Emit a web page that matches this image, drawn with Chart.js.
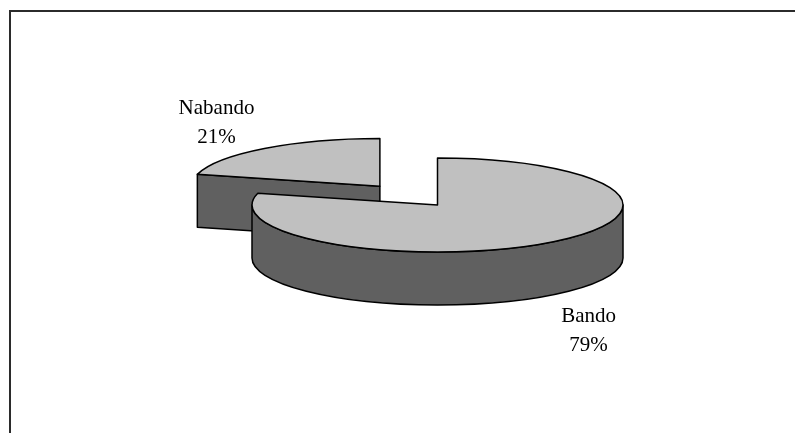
<!DOCTYPE html>
<html>
<head>
<meta charset="utf-8">
<script src="https://cdn.jsdelivr.net/npm/chart.js@4.4.1/dist/chart.umd.min.js"></script>
<style>
  html, body { margin: 0; padding: 0; background: #fff; overflow: hidden; }
</style>
</head>
<body>
<canvas id="pie" width="795" height="433"></canvas>
<script>
// Slices of the pie
const categories = ["Bando", "Nabando"];
const shares = [79, 21];

// Look of the fake 3D disc
const TOP_COLOR = "#c0c0c0";
const SIDE_COLOR = "#606060";
const EDGE_COLOR = "#000000";
const TILT = 0.253;       // vertical squash of the disc
const DEPTH = 53;         // disc thickness in px
const LABEL_FONT = "21px 'Liberation Serif', 'Times New Roman', serif";
const LINE_H = 29;

// Geometry of an arc element as it is actually drawn (same maths as ArcElement.draw)
function sliceGeom(el) {
  const mid = (el.startAngle + el.endAngle) / 2;
  const off = (el.options.offset || 0) / 4;
  const circ = el.endAngle - el.startAngle;
  const fix = 1 - Math.sin(Math.min(Math.PI, circ));
  return {
    x: el.x + Math.cos(mid) * off,
    y: el.y + Math.sin(mid) * off * TILT,
    r: el.outerRadius + off * fix,
    s: el.startAngle,
    e: el.endAngle,
    mid: mid
  };
}

function drawFace(ctx, g, a) {
  const px = g.x + Math.cos(a) * g.r;
  const py = g.y + Math.sin(a) * g.r * TILT;
  ctx.beginPath();
  ctx.moveTo(g.x, g.y);
  ctx.lineTo(px, py);
  ctx.lineTo(px, py + DEPTH);
  ctx.lineTo(g.x, g.y + DEPTH);
  ctx.closePath();
  ctx.fill();
  ctx.stroke();
}

const disc3d = {
  id: "disc3d",
  beforeDraw(chart) {
    // chart frame: only the top and left edges are in the picture
    const ctx = chart.ctx;
    ctx.save();
    ctx.strokeStyle = "#2b2b2b";
    ctx.lineWidth = 2;
    ctx.beginPath();
    ctx.moveTo(10, chart.height);
    ctx.lineTo(10, 11);
    ctx.lineTo(chart.width, 11);
    ctx.stroke();
    ctx.restore();
  },
  beforeDatasetsDraw(chart) {
    const ctx = chart.ctx;
    const arcs = chart.getDatasetMeta(0).data;
    const geoms = arcs.map(sliceGeom).sort((a, b) => a.y - b.y);

    ctx.save();
    ctx.fillStyle = SIDE_COLOR;
    ctx.strokeStyle = EDGE_COLOR;
    ctx.lineWidth = 1.5;
    ctx.lineJoin = "round";
    geoms.forEach(g => {
      // cut faces that turn towards the viewer
      if (Math.cos(g.s) < -1e-6) drawFace(ctx, g, g.s);
      if (Math.cos(g.e) > 1e-6) drawFace(ctx, g, g.e);
      // outer wall on the front half of the disc
      for (let n = -1; n <= 1; n++) {
        const lo = Math.max(g.s, 2 * Math.PI * n);
        const hi = Math.min(g.e, 2 * Math.PI * n + Math.PI);
        if (hi - lo < 1e-6) continue;
        ctx.beginPath();
        ctx.ellipse(g.x, g.y, g.r, g.r * TILT, 0, lo, hi, false);
        ctx.ellipse(g.x, g.y + DEPTH, g.r, g.r * TILT, 0, hi, lo, true);
        ctx.closePath();
        ctx.fill();
        ctx.stroke();
      }
    });
    ctx.restore();

    // squash the flat pie so that Chart.js paints the top faces
    const cx = arcs[0].x, cy = arcs[0].y;
    ctx.save();
    ctx.translate(cx, cy);
    ctx.scale(1, TILT);
    ctx.translate(-cx, -cy);
  },
  afterDatasetsDraw(chart) {
    const ctx = chart.ctx;
    ctx.restore();

    const meta = chart.getDatasetMeta(0);
    const values = chart.data.datasets[0].data;
    const total = values.reduce((a, b) => a + b, 0);

    ctx.save();
    ctx.strokeStyle = EDGE_COLOR;
    ctx.lineWidth = 1.5;
    ctx.lineJoin = "round";
    meta.data.forEach(el => {
      const g = sliceGeom(el);
      ctx.beginPath();
      ctx.moveTo(g.x, g.y);
      ctx.ellipse(g.x, g.y, g.r, g.r * TILT, 0, g.s, g.e, false);
      ctx.closePath();
      ctx.stroke();
    });

    // data labels: category and percentage outside the disc
    ctx.font = LABEL_FONT;
    ctx.fillStyle = "#000";
    ctx.textAlign = "center";
    ctx.textBaseline = "middle";
    meta.data.forEach((el, i) => {
      const g = sliceGeom(el);
      const c = Math.cos(g.mid), s = Math.sin(g.mid);
      const ax = g.x + c * g.r;
      let ay = g.y + s * g.r * TILT;
      if (s > 0) ay += DEPTH;
      const lines = [chart.data.labels[i], Math.round(values[i] / total * 100) + "%"];
      const w = Math.max(...lines.map(t => ctx.measureText(t).width));
      const h = LINE_H * lines.length;
      const left = c >= 0 ? ax + 10 : ax - 10 - w;
      const top = s >= 0 ? ay + 7 : ay + 3 - h;
      lines.forEach((t, j) => ctx.fillText(t, left + w / 2, top + LINE_H * (j + 0.5)));
    });
    ctx.restore();
  }
};

new Chart(document.getElementById("pie"), {
  type: "pie",
  data: {
    labels: categories,
    datasets: [{
      data: shares,
      backgroundColor: TOP_COLOR,
      borderWidth: 0,
      offset: [0, 376],
      radius: 185.5
    }]
  },
  options: {
    responsive: false,
    animation: false,
    layout: { padding: { left: 80, right: 0, top: 0, bottom: 23 } },
    plugins: {
      legend: { display: false },
      tooltip: { enabled: false }
    }
  },
  plugins: [disc3d]
});
</script>
</body>
</html>
